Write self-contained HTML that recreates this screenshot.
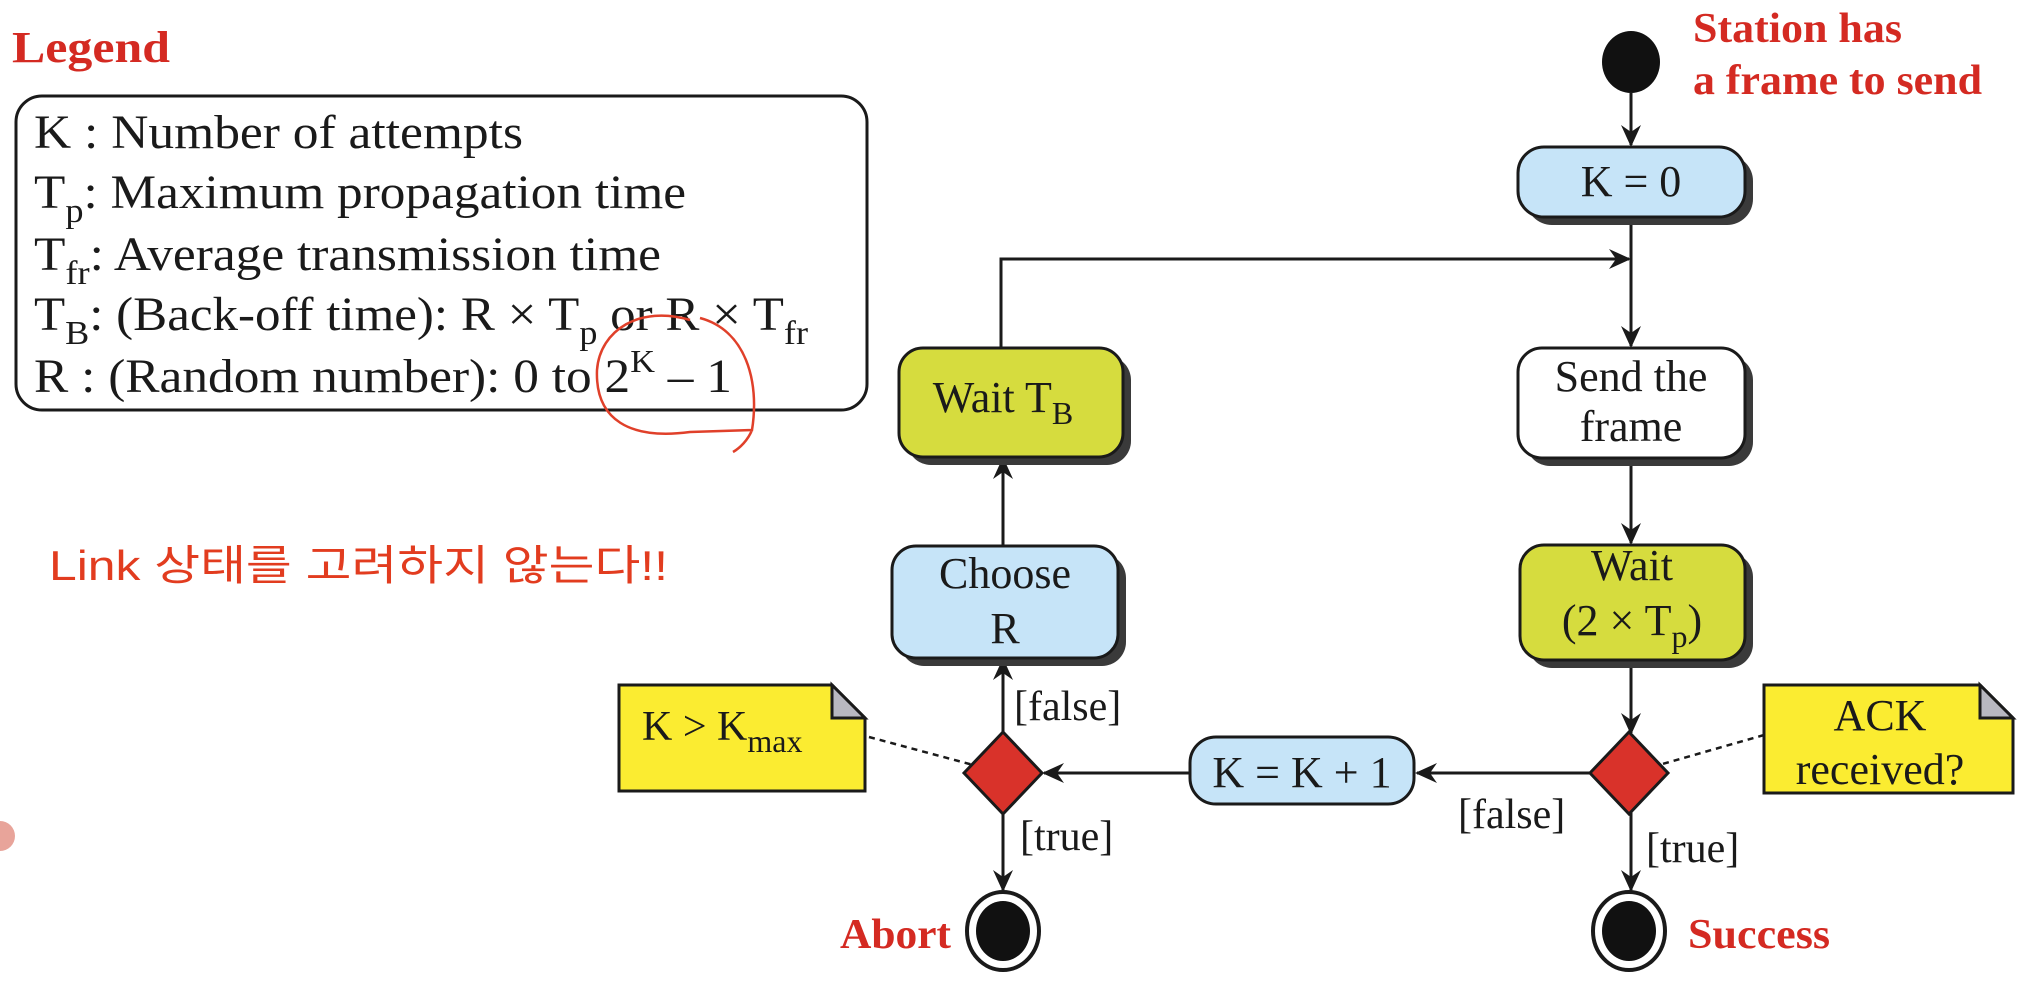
<!DOCTYPE html>
<html><head><meta charset="utf-8"><style>
html,body{margin:0;padding:0;background:#fff;}
svg{display:block;}
.s{font-family:"Liberation Serif",serif;fill:#1a1a1a;}
.r{font-family:"Liberation Serif",serif;fill:#d42a22;font-weight:bold;}
</style></head><body>
<svg width="2034" height="988" viewBox="0 0 2034 988" xmlns="http://www.w3.org/2000/svg">
<defs>
<marker id="a" markerWidth="22" markerHeight="22" refX="20" refY="11" orient="auto" markerUnits="userSpaceOnUse">
<path d="M0,1 L22,11 L0,21 L7,11 Z" fill="#1a1a1a"/>
</marker>
</defs>

<text x="12" y="62" class="r" font-size="44" textLength="158" lengthAdjust="spacingAndGlyphs">Legend</text>
<rect x="16" y="96" width="851" height="314" rx="26" fill="#fff" stroke="#1a1a1a" stroke-width="3"/>
<g class="s" font-size="48">
<text x="34" y="148" textLength="489" lengthAdjust="spacingAndGlyphs">K  : Number of attempts</text>
<text x="34" y="208" textLength="652" lengthAdjust="spacingAndGlyphs">T<tspan dy="14" font-size="34">p</tspan><tspan dy="-14">: Maximum propagation time</tspan></text>
<text x="34" y="270" textLength="627" lengthAdjust="spacingAndGlyphs">T<tspan dy="14" font-size="34">fr</tspan><tspan dy="-14">: Average transmission time</tspan></text>
<text x="34" y="330" textLength="774" lengthAdjust="spacingAndGlyphs">T<tspan dy="14" font-size="34">B</tspan><tspan dy="-14">: (Back-off time): R × T</tspan><tspan dy="14" font-size="34">p</tspan><tspan dy="-14"> or R × T</tspan><tspan dy="14" font-size="34">fr</tspan></text>
<text x="34" y="392" textLength="698" lengthAdjust="spacingAndGlyphs">R  : (Random number): 0 to 2<tspan dy="-20" font-size="32">K</tspan><tspan dy="20"> – 1</tspan></text>
</g>
<path d="M690,320 C640,305 600,330 597,370 C595,420 630,440 690,432 L752,430 C760,380 745,330 700,318 M752,430 C748,440 740,448 733,452" fill="none" stroke="#e0402a" stroke-width="2.5"/>

<text x="49" y="580" font-family="'Liberation Sans','Noto Sans CJK KR',sans-serif" font-size="42" fill="#e23c1f" textLength="619" lengthAdjust="spacingAndGlyphs">Link 상태를 고려하지 않는다!!</text>
<circle cx="0" cy="836" r="15" fill="#e8a49a"/>

<ellipse cx="1631" cy="62" rx="29" ry="31" fill="#111"/>
<text x="1693" y="42" class="r" font-size="42" textLength="209" lengthAdjust="spacingAndGlyphs">Station has</text>
<text x="1693" y="94" class="r" font-size="42" textLength="289" lengthAdjust="spacingAndGlyphs">a frame to send</text>

<g stroke="#1a1a1a" stroke-width="3" fill="none">
<line x1="1631" y1="92" x2="1631" y2="145" marker-end="url(#a)"/>
<line x1="1631" y1="217" x2="1631" y2="346" marker-end="url(#a)"/>
<polyline points="1001,347 1001,259 1629,259" marker-end="url(#a)"/>
<line x1="1631" y1="458" x2="1631" y2="543" marker-end="url(#a)"/>
<line x1="1631" y1="660" x2="1631" y2="733" marker-end="url(#a)"/>
<line x1="1591" y1="773" x2="1417" y2="773" marker-end="url(#a)"/>
<line x1="1190" y1="773" x2="1044" y2="773" marker-end="url(#a)"/>
<line x1="1003" y1="734" x2="1003" y2="660" marker-end="url(#a)"/>
<line x1="1003" y1="546" x2="1003" y2="459" marker-end="url(#a)"/>
<line x1="1003" y1="812" x2="1003" y2="890" marker-end="url(#a)"/>
<line x1="1631" y1="812" x2="1631" y2="890" marker-end="url(#a)"/>
</g>
<g stroke="#1a1a1a" stroke-width="2.5" stroke-dasharray="6,5" fill="none">
<line x1="869" y1="737" x2="1003" y2="773"/>
<line x1="1764" y1="735" x2="1631" y2="773"/>
</g>

<g stroke="#1a1a1a" stroke-width="3">
<rect x="1526" y="155" width="227" height="70" rx="26" fill="#3a3a3a" stroke="none"/>
<rect x="1518" y="147" width="227" height="70" rx="26" fill="#c6e4f8"/>
<rect x="1526" y="356" width="227" height="110" rx="24" fill="#3a3a3a" stroke="none"/>
<rect x="1518" y="348" width="227" height="110" rx="24" fill="#fff"/>
<rect x="1528" y="553" width="225" height="115" rx="24" fill="#3a3a3a" stroke="none"/>
<rect x="1520" y="545" width="225" height="115" rx="24" fill="#d6dc3e"/>
<rect x="907" y="356" width="224" height="109" rx="24" fill="#3a3a3a" stroke="none"/>
<rect x="899" y="348" width="224" height="109" rx="24" fill="#d6dc3e"/>
<rect x="900" y="554" width="226" height="112" rx="24" fill="#3a3a3a" stroke="none"/>
<rect x="892" y="546" width="226" height="112" rx="24" fill="#c6e4f8"/>
<rect x="1190" y="737" width="224" height="67" rx="26" fill="#c6e4f8"/>
<polygon points="1629,732 1668,773 1629,814 1590,773" fill="#d9322a"/>
<polygon points="1003,732 1042,773 1003,814 964,773" fill="#d9322a"/>
<path d="M619,685 L832,685 L865,718 L865,791 L619,791 Z" fill="#fbec31"/>
<path d="M832,685 L832,718 L865,718 Z" fill="#b8b8c0"/>
<path d="M1764,685 L1980,685 L2013,718 L2013,793 L1764,793 Z" fill="#fbec31"/>
<path d="M1980,685 L1980,718 L2013,718 Z" fill="#b8b8c0"/>
<ellipse cx="1003" cy="931" rx="36" ry="39" fill="#fff" stroke-width="4"/>
<ellipse cx="1003" cy="931" rx="27" ry="30" fill="#111" stroke="none"/>
<ellipse cx="1629" cy="931" rx="36" ry="39" fill="#fff" stroke-width="4"/>
<ellipse cx="1629" cy="931" rx="27" ry="30" fill="#111" stroke="none"/>
</g>

<g class="s" font-size="44" text-anchor="middle">
<text x="1631" y="196">K = 0</text>
<text x="1631" y="391">Send the</text>
<text x="1631" y="441">frame</text>
<text x="1632" y="580">Wait</text>
<text x="1632" y="635">(2 × T<tspan dy="12" font-size="32">p</tspan><tspan dy="-12">)</tspan></text>
<text x="1003" y="412">Wait T<tspan dy="12" font-size="32">B</tspan></text>
<text x="1005" y="588">Choose</text>
<text x="1005" y="643">R</text>
<text x="1302" y="787">K = K + 1</text>
<text x="1880" y="730">ACK</text>
<text x="1880" y="784">received?</text>
</g>
<g class="s" font-size="42">
<text x="642" y="740">K &gt; K<tspan dy="12" font-size="32">max</tspan></text>
<text x="1014" y="720">[false]</text>
<text x="1458" y="828">[false]</text>
<text x="1020" y="850">[true]</text>
<text x="1646" y="862">[true]</text>
</g>
<text x="840" y="948" class="r" font-size="42" textLength="111" lengthAdjust="spacingAndGlyphs">Abort</text>
<text x="1688" y="948" class="r" font-size="42" textLength="142" lengthAdjust="spacingAndGlyphs">Success</text>
</svg>
</body></html>
